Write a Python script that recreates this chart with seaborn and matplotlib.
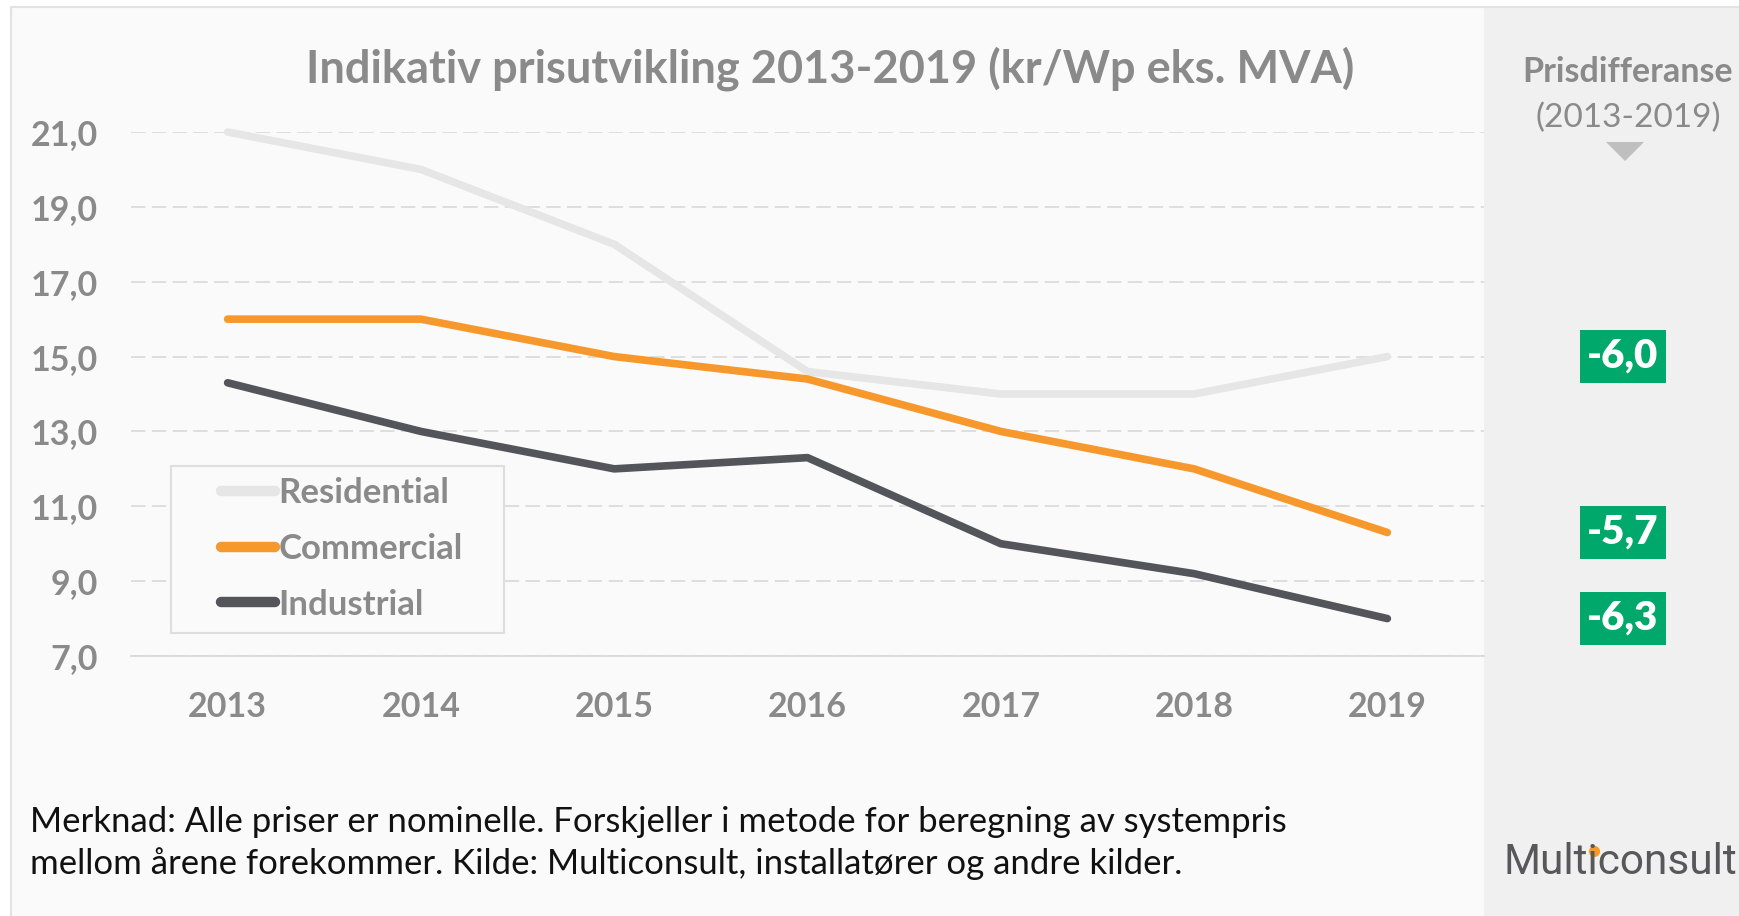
import matplotlib
matplotlib.use("Agg")
import matplotlib.pyplot as plt
import matplotlib.transforms as mtransforms
from matplotlib.patches import Rectangle, Polygon
from matplotlib.lines import Line2D
import pandas as pd
import seaborn as sns

years = [2013, 2014, 2015, 2016, 2017, 2018, 2019]
residential = [21.0, 20.0, 18.0, 14.6, 14.0, 14.0, 15.0]
commercial = [16.0, 16.0, 15.0, 14.4, 13.0, 12.0, 10.3]
industrial = [14.3, 13.0, 12.0, 12.3, 10.0, 9.2, 8.0]
series_names = ["Residential", "Commercial", "Industrial"]
series_colors = ["#E6E6E6", "#F7982D", "#54555A"]
diff_labels = ["-6,0", "-5,7", "-6,3"]
y_ticks = [7, 9, 11, 13, 15, 17, 19, 21]

title = "Indikativ prisutvikling 2013-2019 (kr/Wp eks. MVA)"
note_lines = ["Merknad: Alle priser er nominelle. Forskjeller i metode for beregning av systempris",
              "mellom årene forekommer. Kilde: Multiconsult, installatører og andre kilder."]

df = pd.DataFrame({
    "year": years * 3,
    "price": residential + commercial + industrial,
    "type": [n for n in series_names for _ in years],
})

sns.set_theme(style="white")
plt.rcParams["font.family"] = ["Lato", "DejaVu Sans"]

W, H = 1740, 916
GRAY = "#8A8A8A"
fig = plt.figure(figsize=(W / 100, H / 100), dpi=100, facecolor="white")


def fx(px):
    return px / W


def fy(py):
    return 1 - py / H


# background, right panel, frame
fig.patches.append(Rectangle((fx(11), -0.02), 1, fy(7) + 0.02, transform=fig.transFigure,
                             fc="#FAFAFA", ec="none", zorder=-3))
fig.patches.append(Rectangle((fx(1484), -0.02), 1, fy(7) + 0.02, transform=fig.transFigure,
                             fc="#F0F0F0", ec="none", zorder=-2))
fig.patches.append(Rectangle((fx(11), -0.02), 1, fy(7) + 0.02, transform=fig.transFigure,
                             fc="none", ec="#E2E2E2", lw=1.5, zorder=-1))

ax = fig.add_axes([fx(131), fy(656), fx(1484) - fx(131), fy(132) - fy(656)])
ax.set_facecolor("none")
ax.set_zorder(3)

sns.lineplot(data=df, x="year", y="price", hue="type", hue_order=series_names,
             palette=series_colors, linewidth=5.5, legend=False, ax=ax, clip_on=False)

ax.set_xlim(2012.5, 2019.5)
ax.set_ylim(7, 21)
ax.set_xticks(years)
ax.set_yticks(y_ticks)
ax.set_yticklabels([f"{v:.1f}".replace(".", ",") for v in y_ticks])
ax.set_xlabel("")
ax.set_ylabel("")
ax.yaxis.grid(True, color="#DCDCDC", lw=1.3, linestyle=(0, (8, 3.5)))
ax.set_axisbelow(True)
for s in ["left", "right", "top"]:
    ax.spines[s].set_visible(False)
ax.spines["bottom"].set_color("#D9D9D9")
ax.spines["bottom"].set_linewidth(1.3)
ax.tick_params(axis="both", length=0, labelcolor=GRAY)
ax.tick_params(axis="y", pad=24, labelsize=24.5)
ax.tick_params(axis="x", pad=25, labelsize=24.5)
for lab in ax.get_xticklabels() + ax.get_yticklabels():
    lab.set_fontweight("bold")

# legend with an Excel-like wide frame
ax.add_patch(Rectangle((fx(171), fy(633)), fx(504) - fx(171), fy(466) - fy(633),
                       transform=fig.transFigure, fc="#FAFAFA", ec="#DEDEDE", lw=1.5,
                       zorder=1.5, clip_on=False))
handles = [Line2D([0], [0], color=c, lw=7.5, solid_capstyle="round") for c in series_colors]
leg = ax.legend(handles, series_names, loc="center left", bbox_to_anchor=(fx(221), fy(549)),
                bbox_transform=fig.transFigure, frameon=False,
                prop=dict(weight="bold", size=25), labelcolor=GRAY,
                handlelength=1.55, handletextpad=0.1, borderpad=0, labelspacing=0.68,
                borderaxespad=0)

fig.text(fx(830), fy(69), title, ha="center", va="center", fontsize=32.5,
         fontweight="bold", color=GRAY)

# right panel
fig.text(fx(1628), fy(72), "Prisdifferanse", ha="center", va="center", fontsize=24.5,
         fontweight="bold", color=GRAY)
fig.text(fx(1628), fy(118), "(2013-2019)", ha="center", va="center", fontsize=24, color=GRAY)
fig.patches.append(Polygon([(fx(1606), fy(142)), (fx(1644), fy(142)), (fx(1625), fy(161))],
                           closed=True, transform=fig.transFigure, fc="#BFBFBF", ec="none",
                           zorder=2))

blend = mtransforms.blended_transform_factory(fig.transFigure, ax.transData)
ends = [residential[-1], commercial[-1], industrial[-1]]
for val, lab in zip(ends, diff_labels):
    ax.text(fx(1623), val, lab, transform=blend, ha="center", va="center", fontsize=29,
            fontweight="heavy", color="white", clip_on=False,
            bbox=dict(boxstyle="square,pad=0.19", fc="#00A86B", ec="none"))

# note
fig.text(fx(30), fy(822), note_lines[0], ha="left", va="center", fontsize=25, color="#111111")
fig.text(fx(30), fy(864), note_lines[1], ha="left", va="center", fontsize=25, color="#111111")

# logo, with the orange dot on the i
logo = fig.text(fx(1504), fy(874), "Multiconsult", ha="left", va="baseline", fontsize=30.5,
                color="#58585A", family=["Roboto", "DejaVu Sans"])
renderer = fig.canvas.get_renderer()
bb = logo.get_window_extent(renderer)
fig.add_artist(Line2D([bb.x0 + 0.383 * bb.width], [bb.y1 - 9], transform=None,
                      marker="o", markersize=7, color="#F7982D", lw=0))

fig.savefig("out.png", dpi=100, facecolor=fig.get_facecolor())
